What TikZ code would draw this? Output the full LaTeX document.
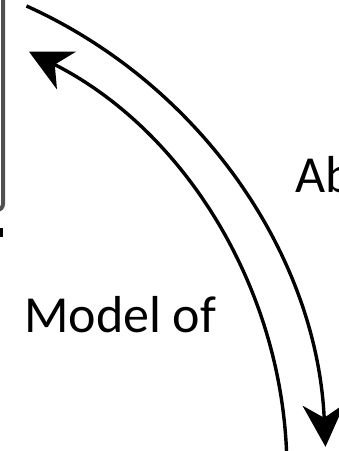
\documentclass[tikz,border=0pt]{standalone}
\usepackage{fontspec}
\setmainfont{Carlito}
\usepackage{xcolor}
\usetikzlibrary{arrows.meta}
\definecolor{boxgray}{HTML}{505050}

\begin{document}
\begin{tikzpicture}[x=1pt,y=1pt,
  arcline/.style={line width=3.4pt,-{Stealth[length=42pt,width=42pt,inset=13pt]}},
  lbl/.style={font=\fontsize{52}{62}\selectfont,inner sep=0pt,anchor=base west}]
\useasboundingbox (0,0) rectangle (339,451);
\clip (0,0) rectangle (339,451);
% box cut off on the left
\draw[boxgray,line width=4pt,rounded corners=6pt] (-60,470) rectangle (3,241);
\fill (0,214) rectangle (2.5,223);
% arcs round a common centre
\coordinate (absStart) at (26.5,445);
\coordinate (modStart) at (286.6,-2);
\draw[arcline] (absStart) arc[start angle=65.7,end angle=2.6,radius=509];
\draw[arcline] (modStart) arc[start angle=2.2,end angle=63.2,radius=470];
\node[lbl] (model) at (24,118) {Model of};
\node[lbl] (abstr) at (295,258) {Ab};
\end{tikzpicture}
\end{document}
